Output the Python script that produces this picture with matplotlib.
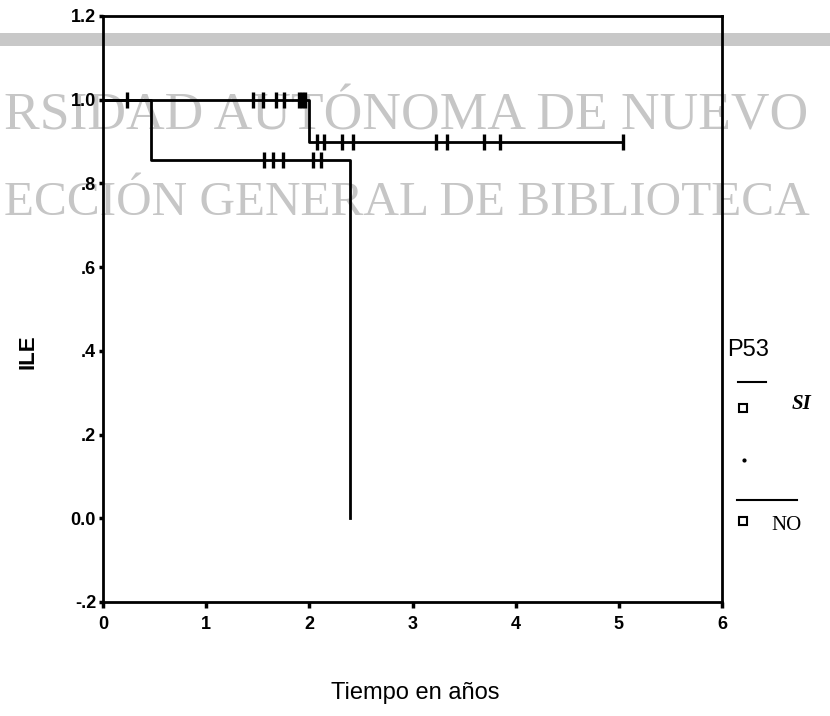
import numpy as np
import matplotlib
matplotlib.use("Agg")
import matplotlib.pyplot as plt
from matplotlib.lines import Line2D
from matplotlib.patches import Rectangle

# Kaplan-Meier curves (time in years, survival)
si_times = [0.0, 2.0, 5.04]
si_surv = [1.0, 0.9, 0.9]
si_censored = [0.23, 1.45, 1.55, 1.68, 1.75, 1.90, 1.93, 1.96,
               2.07, 2.14, 2.32, 2.42, 3.23, 3.33, 3.69, 3.85, 5.04]

no_times = [0.0, 0.47, 2.39]
no_surv = [1.0, 0.857, 0.0]
no_censored = [1.56, 1.65, 1.74, 2.04, 2.11]

x_ticks = [0, 1, 2, 3, 4, 5, 6]
y_ticks = [-0.2, 0.0, 0.2, 0.4, 0.6, 0.8, 1.0, 1.2]
y_tick_labels = ['-.2', '0.0', '.2', '.4', '.6', '.8', '1.0', '1.2']

W, H = 830, 716


def fx(x):
    return x / W


def fy(y):
    return 1 - y / H


def surv_at(times, surv, t):
    # value of a post-step function at time t
    i = np.searchsorted(times, t, side='right') - 1
    return surv[max(i, 0)]


fig = plt.figure(figsize=(W / 100, H / 100), dpi=100)
fig.patch.set_facecolor('white')

# scanned library watermark, behind everything
wm = '#c6c6c6'
fig.text(fx(4), fy(130), 'RSIDAD AUTÓNOMA DE NUEVO', family='Liberation Serif',
         fontsize=38.5, color=wm, ha='left', va='baseline', zorder=-2)
fig.text(fx(4), fy(215), 'ECCIÓN GENERAL DE BIBLIOTECA', family='Liberation Serif',
         fontsize=35.5, color=wm, ha='left', va='baseline', zorder=-2)
fig.add_artist(Rectangle((0, fy(46)), 1, fy(33) - fy(46), transform=fig.transFigure,
                         facecolor='#c8c8c8', edgecolor='none', zorder=-2))

ax = fig.add_axes([fx(103), fy(602), fx(722) - fx(103), fy(16) - fy(602)])
ax.set_facecolor('none')

for times, surv, cens in [(si_times, si_surv, si_censored),
                          (no_times, no_surv, no_censored)]:
    ax.step(times, surv, where='post', color='black', lw=2.0)
    cy = [surv_at(times, surv, t) for t in cens]
    ax.plot(cens, cy, ls='none', marker='|', color='black', ms=12, mew=2.4)

ax.set_xlim(0, 6)
ax.set_ylim(-0.2, 1.2)
ax.set_xticks(x_ticks)
ax.set_xticklabels([str(v) for v in x_ticks], fontsize=13, fontweight='bold',
                   family='Liberation Sans')
ax.set_yticks(y_ticks)
ax.set_yticklabels(y_tick_labels, fontsize=13, fontweight='bold',
                   family='Liberation Sans')
ax.tick_params(axis='x', direction='out', length=4, width=2.5, pad=6)
ax.tick_params(axis='y', direction='out', length=3, width=2.5, pad=2)
for sp in ax.spines.values():
    sp.set_linewidth(2.0)

ax.set_ylabel('ILE', fontsize=16, fontweight='bold', family='Liberation Sans')
ax.yaxis.set_label_coords(-0.105, 0.427)
ax.set_xlabel('Tiempo en años', fontsize=17, family='Liberation Sans')
ax.xaxis.set_label_coords(0.504, -0.156)
ax.xaxis.label.set_va('center')

# legend, drawn by hand as in the scan
fig.text(fx(727), fy(350), 'P53', fontsize=17, family='Liberation Sans',
         ha='left', va='center')
fig.add_artist(Line2D([fx(738), fx(766)], [fy(382), fy(382)], color='black', lw=1.5,
                      transform=fig.transFigure))
fig.add_artist(Line2D([fx(743)], [fy(408)], marker='s', ms=6, mfc='white', mec='black',
                      mew=1.5, transform=fig.transFigure))
fig.text(fx(792), fy(404), 'SI', fontsize=15, family='Liberation Serif', style='italic',
         fontweight='bold', ha='left', va='center')
fig.add_artist(Line2D([fx(744)], [fy(460)], marker='o', ms=2, color='black',
                      transform=fig.transFigure))
fig.add_artist(Line2D([fx(737), fx(797)], [fy(500), fy(500)], color='black', lw=1.5,
                      transform=fig.transFigure))
fig.add_artist(Line2D([fx(743)], [fy(521)], marker='s', ms=6, mfc='white', mec='black',
                      mew=1.5, transform=fig.transFigure))
fig.text(fx(771), fy(526), 'NO', fontsize=15, family='Liberation Serif',
         ha='left', va='center')

fig.savefig('out.png', dpi=100)
